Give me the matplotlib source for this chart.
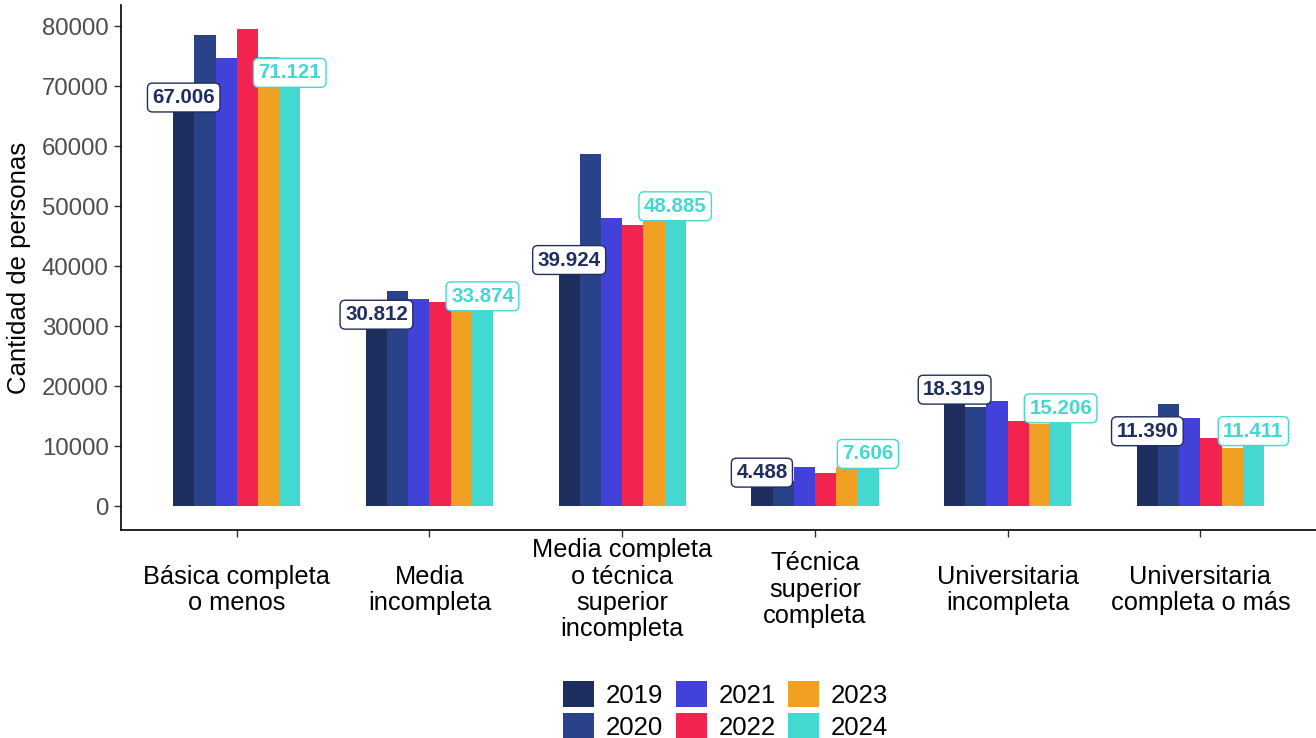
import matplotlib
matplotlib.use("Agg")
import matplotlib.pyplot as plt
import numpy as np

plt.rcParams['font.family'] = ['Liberation Sans', 'DejaVu Sans']

categories = ["Básica completa\no menos", "Media\nincompleta",
              "Media completa\no técnica\nsuperior\nincompleta",
              "Técnica\nsuperior\ncompleta", "Universitaria\nincompleta",
              "Universitaria\ncompleta o más"]
years = ["2019", "2020", "2021", "2022", "2023", "2024"]
v2019 = [67006, 30812, 39924, 4488, 18319, 11390]
v2020 = [78500, 35900, 58700, 4200, 16600, 17100]
v2021 = [74700, 34600, 48100, 6600, 17500, 14700]
v2022 = [79500, 34000, 46800, 5500, 14200, 11300]
v2023 = [74900, 32900, 47800, 6500, 13700, 9700]
v2024 = [71121, 33874, 48885, 7606, 15206, 11411]
series = [v2019, v2020, v2021, v2022, v2023, v2024]
colors = ["#1E2E5E", "#29428A", "#4242DA", "#F2234F", "#F2A024", "#43D9D0"]

fig = plt.figure(figsize=(13.16, 7.38), dpi=100)
ax = fig.add_axes([0.092, 0.2818, 0.908, 0.711])

x = np.arange(len(categories))
group_w = 0.66
bw = group_w / len(years)
for i, (yr, vals, c) in enumerate(zip(years, series, colors)):
    pos = x - group_w / 2 + bw * (i + 0.5)
    ax.bar(pos, vals, width=bw, color=c, label=yr, edgecolor='none')

def fmt(v):
    return f"{v:,}".replace(",", ".")

for i in [0, 5]:
    vals = series[i]
    c = colors[i]
    pos = x - group_w / 2 + bw * (i + 0.5)
    for p, v in zip(pos, vals):
        ax.text(p, v + 1100, fmt(v), ha='center', va='center', fontsize=14.8,
                fontweight='bold', color=c,
                bbox=dict(boxstyle='round,pad=0.24,rounding_size=0.25',
                          fc='white', ec=c, lw=1.0))

ax.set_xlim(-0.6, len(categories) - 0.4)
ax.set_ylim(-3975, 83475)
ax.set_yticks(np.arange(0, 80001, 10000))
ax.set_yticklabels([str(t) for t in range(0, 80001, 10000)])
ax.set_xticks(x)
ax.set_xticklabels(categories, fontsize=18.3, color='black', linespacing=1.13,
                   va='center')
ax.tick_params(axis='y', labelsize=17.3, labelcolor='#4D4D4D', color='#333333',
               length=5, width=1, pad=4)
ax.tick_params(axis='x', color='#333333', length=5, width=1, pad=38)
for s in ['top', 'right']:
    ax.spines[s].set_visible(False)
for s in ['left', 'bottom']:
    ax.spines[s].set_linewidth(1.2)
ax.set_ylabel("Cantidad de personas", fontsize=18.5, color='black', labelpad=8)

ax.legend(loc='upper center', bbox_to_anchor=(0.506, -0.268), ncol=3,
          frameon=False, fontsize=18.5, handlelength=1.2, handleheight=1.2,
          handletextpad=0.45, columnspacing=0.5, labelspacing=0.2,
          borderaxespad=0)

fig.savefig("out.png", dpi=100)
